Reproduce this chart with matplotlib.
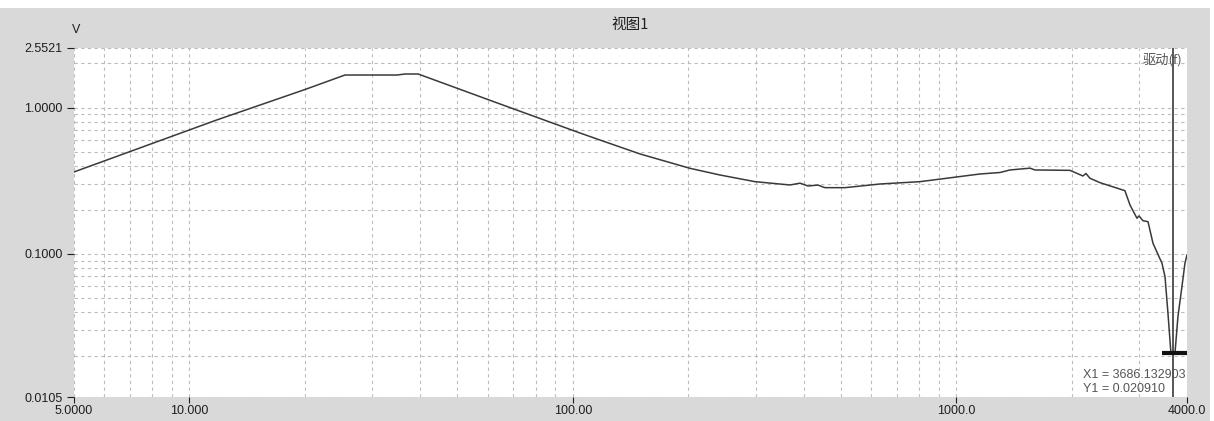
#!/bin/env python
"""Frequency sweep response, view 1 (log-log), with cursor readout
"""
import numpy as np
import matplotlib as mpl
import matplotlib.pyplot as plt
from matplotlib.patches import Rectangle
from matplotlib.ticker import FixedLocator, LogLocator, NullFormatter

# data
freq_hz = [5.0, 11.78, 20.1, 25.45, 34.8, 36.5, 39.5, 64.6, 104.4, 117.7,
           149.8, 202.0, 242.0, 298.7, 368.6, 391.4, 410.7, 436.0, 454.7,
           513.0, 633.0, 804.5, 1153.0, 1301.0, 1381.0, 1558.0, 1605.0,
           1981.0, 2141.0, 2180.0, 2233.0, 2372.0, 2755.0, 2840.0, 2892.0,
           2962.0, 2998.0, 3071.0, 3165.0, 3261.0, 3442.0, 3505.0, 3568.0,
           3632.0, 3721.0, 3788.0, 3880.0, 3951.0, 4000.0]
volts = [0.3627, 0.8218, 1.3327, 1.668, 1.668, 1.695, 1.695, 1.0575,
         0.6697, 0.5998, 0.4814, 0.3843, 0.3458, 0.3113, 0.2955, 0.3040,
         0.2909, 0.2950, 0.2833, 0.2833, 0.3001, 0.3113, 0.3512, 0.3596,
         0.3742, 0.3850, 0.3742, 0.3720, 0.3405, 0.3540, 0.3285, 0.3065,
         0.2701, 0.2157, 0.1971, 0.1750, 0.1815, 0.1684, 0.1658, 0.1180,
         0.0862, 0.0698, 0.0392, 0.02091, 0.02091, 0.0372, 0.0596, 0.0862,
         0.0982]

x_ticks = [5.0, 10.0, 100.0, 1000.0, 4000.0]
x_labels = ['5.0000', '10.000', '100.00', '1000.0', '4000.0']
y_ticks = [0.0105, 0.1, 1.0, 2.5521]
y_labels = ['0.0105', '0.1000', '1.0000', '2.5521']

cursor_x = 3686.132903
cursor_y = 0.020910

# configuration
W, H = 1214, 421
plt.rcParams['font.family'] = ['Liberation Sans', 'Noto Sans CJK SC', 'DejaVu Sans']
plt.rc('font', size=9)
CJK = ['Noto Sans CJK SC', 'DejaVu Sans']
GRAY_BG = '#d9d9d9'
INK = '#1e1e1e'


def main():
    fig = plt.figure(figsize=(W / 100, H / 100), dpi=100, facecolor='white')
    # grey panel behind the plot
    fig.patches.append(Rectangle((0, 0), 1210 / W, (H - 8) / H,
                                 transform=fig.transFigure,
                                 facecolor=GRAY_BG, edgecolor='none', zorder=-10))

    ax = fig.add_axes([74 / W, (H - 397) / H, (1187 - 74) / W, (397 - 48) / H])
    ax.set_zorder(1)
    ax.set_facecolor('white')
    ax.set_xscale('log')
    ax.set_yscale('log')
    ax.set_xlim(5.0, 4000.0)
    ax.set_ylim(0.0105, 2.5521)
    for s in ax.spines.values():
        s.set_visible(False)

    ax.xaxis.set_major_locator(FixedLocator(x_ticks))
    ax.set_xticklabels(x_labels)
    ax.yaxis.set_major_locator(FixedLocator(y_ticks))
    ax.set_yticklabels(y_labels)
    ax.xaxis.set_minor_locator(LogLocator(base=10, subs=np.arange(2, 10), numticks=20))
    ax.yaxis.set_minor_locator(LogLocator(base=10, subs=np.arange(2, 10), numticks=20))
    ax.xaxis.set_minor_formatter(NullFormatter())
    ax.yaxis.set_minor_formatter(NullFormatter())
    ax.tick_params(which='minor', length=0)
    ax.tick_params(axis='x', which='major', length=4, width=0.8, color=INK,
                   pad=2, labelcolor=INK, labelsize=9)
    ax.tick_params(axis='y', which='major', length=5, width=0.8, color=INK,
                   pad=3, labelcolor=INK, labelsize=9)

    ax.grid(which='both', color='#bcbcbc', linestyle=(0, (3, 3)), linewidth=0.8)
    ax.set_axisbelow(True)

    ax.plot(freq_hz, volts, color='#3a3a3a', lw=1.1, zorder=3)

    # cursor
    ax.axvline(cursor_x, color='#3a3a3a', lw=1.2, zorder=4)
    ax.hlines(cursor_y, 3442.0, 4000.0, color='#111111', lw=3, zorder=5)
    ax.text(0.9065, 0.063, f"X1 = {cursor_x:.6f}", transform=ax.transAxes,
            ha='left', va='center', color='#555555', fontsize=9, zorder=6)
    ax.text(0.9065, 0.023, f"Y1 = {cursor_y:.6f}", transform=ax.transAxes,
            ha='left', va='center', color='#555555', fontsize=9, zorder=6)
    ax.text(1143 / W, 1 - 60 / H, '驱动(f)', transform=fig.transFigure,
            family=CJK, ha='left', va='center', color='#555555', fontsize=9.5,
            zorder=6)

    fig.text(630 / W, 1 - 25 / H, '视图1', family=CJK, ha='center',
             va='center', color=INK, fontsize=10.5)
    fig.text(76 / W, 1 - 30 / H, 'V', ha='center', va='center', color=INK,
             fontsize=9)

    fig.savefig('out.png', dpi=100, facecolor=fig.get_facecolor())
    return 0


if __name__ == '__main__':
    main()
